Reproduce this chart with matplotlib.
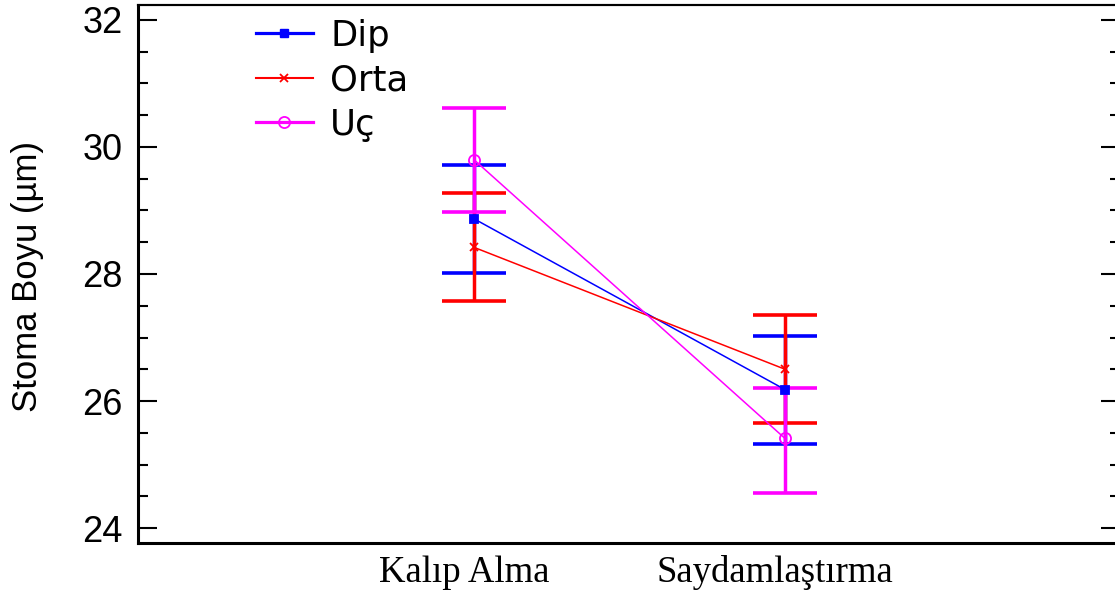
import numpy as np
import matplotlib.pyplot as plt
import matplotlib.transforms as mtransforms
from matplotlib.lines import Line2D
from matplotlib.ticker import MultipleLocator

# gruplar ve ortalamalar
kategoriler = ['Kalıp Alma', 'Saydamlaştırma']
seriler = ['Dip', 'Orta', 'Uç']
dip = [28.87, 26.18]
dip_alt = [28.02, 25.33]
dip_ust = [29.72, 27.02]
orta = [28.42, 26.50]
orta_alt = [27.57, 25.66]
orta_ust = [29.28, 27.35]
uc = [29.80, 25.41]
uc_alt = [28.97, 24.55]
uc_ust = [30.62, 26.21]

renkler = ['#0000ff', '#ff0000', '#ff00ff']
isaretler = ['s', 'x', 'o']

fig = plt.figure(figsize=(11.15, 5.95), dpi=100)
ax = fig.add_axes([138/1115, 52/595, 978/1115, 538/595])

x = np.arange(len(kategoriler))
veriler = [(dip, dip_alt, dip_ust), (orta, orta_alt, orta_ust), (uc, uc_alt, uc_ust)]
for i, (ort, alt, ust) in enumerate(veriler):
    ort = np.array(ort)
    hata = [ort - np.array(alt), np.array(ust) - ort]
    ax.errorbar(x, ort, yerr=hata, fmt='none', ecolor=renkler[i],
                elinewidth=2.5, capsize=23, capthick=2.6, zorder=2 + i * 0.1)
for i, (ort, alt, ust) in enumerate(veriler):
    if isaretler[i] == 'o':
        ax.plot(x, ort, color=renkler[i], lw=1.1, marker='o', ms=8,
                mfc='none', mew=1.3, zorder=3)
    else:
        ax.plot(x, ort, color=renkler[i], lw=1.1, marker=isaretler[i],
                ms=5.5, mew=1.3, zorder=3)

ax.set_xlim(-1.08, 2.064)
ax.set_ylim(23.764, 32.236)
ax.set_xticks(x)
ax.set_xticklabels(kategoriler, family='Liberation Serif', fontsize=26.5)
ax.tick_params(axis='x', length=0, pad=9)
kaydir = mtransforms.ScaledTranslation(-10/100, 0, fig.dpi_scale_trans)
for t in ax.get_xticklabels():
    t.set_transform(t.get_transform() + kaydir)
ax.yaxis.set_major_locator(MultipleLocator(2))
ax.yaxis.set_minor_locator(MultipleLocator(0.5))
ax.tick_params(axis='y', which='major', direction='in', length=14, width=1.5,
               labelsize=26, pad=11)
ax.tick_params(axis='y', which='minor', direction='in', length=7, width=1.5)
for t in ax.get_yticklabels():
    t.set_family('Liberation Sans')

ax2 = ax.twinx()
ax2.set_ylim(ax.get_ylim())
ax2.yaxis.set_major_locator(MultipleLocator(2))
ax2.yaxis.set_minor_locator(MultipleLocator(0.5))
ax2.tick_params(axis='y', which='major', direction='in', length=11, width=1.5,
                labelright=False)
ax2.tick_params(axis='y', which='minor', direction='in', length=4, width=1.5)
for a in (ax, ax2):
    a.spines['right'].set_visible(False)
    a.spines['left'].set_linewidth(2.2)
    a.spines['bottom'].set_linewidth(2.2)
    a.spines['top'].set_linewidth(1.5)
ax2.spines['left'].set_visible(False)
ax2.spines['bottom'].set_visible(False)

fig.text(28/1115, 1 - 276/595, 'Stoma Boyu (µm)', rotation=90, ha='center',
         va='center', family='Liberation Sans', fontsize=25)

tutamaclar = [
    Line2D([], [], color=renkler[0], lw=2.3, marker='s', ms=5.5),
    Line2D([], [], color=renkler[1], lw=1.5, marker='x', ms=5.5, mew=1.3),
    Line2D([], [], color=renkler[2], lw=2.3, marker='o', ms=8, mfc='none', mew=1.3),
]
ax.legend(tutamaclar, seriler, loc='upper left', bbox_to_anchor=(0.088, 1.034),
          frameon=False, handlelength=1.6, handletextpad=0.5,
          labelspacing=0.3, prop={'family': 'DejaVu Sans', 'size': 25.5})

fig.savefig('out.png', dpi=100)
